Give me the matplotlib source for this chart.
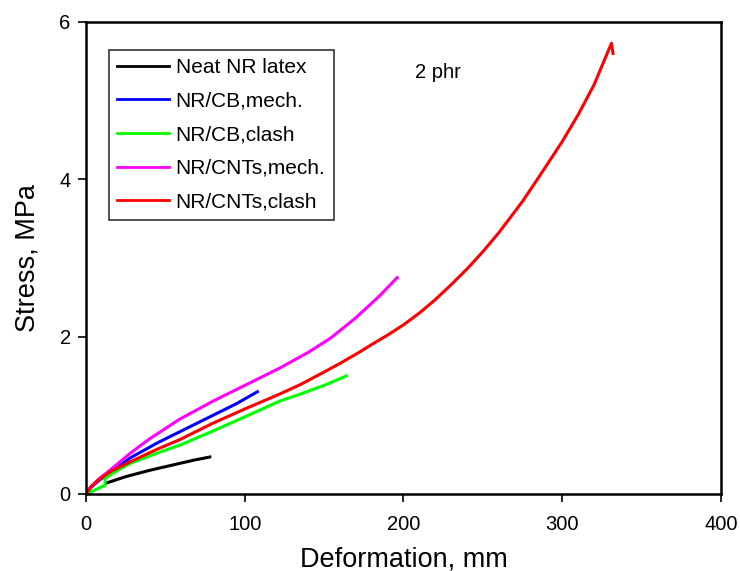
import matplotlib
matplotlib.use("Agg")
import matplotlib.pyplot as plt

plt.rcParams['font.family'] = ['Liberation Sans', 'DejaVu Sans']

# data (deformation in mm, stress in MPa)
neat_d = [13, 25, 40, 55, 68, 78]
neat_s = [0.14, 0.22, 0.30, 0.37, 0.43, 0.47]

cb_mech_d = [0, 3, 8, 15, 28, 45, 60, 80, 95, 108]
cb_mech_s = [0, 0.08, 0.17, 0.27, 0.46, 0.65, 0.80, 1.00, 1.15, 1.30]

cb_clash_d = [0, 12, 12, 20, 28, 45, 59, 80, 100, 122, 135, 150, 164]
cb_clash_s = [0, 0.11, 0.20, 0.30, 0.39, 0.52, 0.62, 0.80, 0.98, 1.18, 1.27, 1.38, 1.50]

cnt_mech_d = [0, 3, 8, 15, 28, 40, 59, 80, 100, 122, 140, 154, 170, 185, 196]
cnt_mech_s = [0, 0.09, 0.19, 0.30, 0.52, 0.70, 0.95, 1.18, 1.38, 1.60, 1.80, 1.98,
              2.24, 2.52, 2.75]

cnt_clash_d = [0, 3, 8, 15, 28, 45, 59, 80, 100, 122, 135, 150, 160, 172, 180, 190,
               200, 210, 220, 230, 240, 250, 260, 275, 285, 300, 310, 320, 331, 332]
cnt_clash_s = [0, 0.09, 0.18, 0.28, 0.41, 0.57, 0.69, 0.90, 1.08, 1.27, 1.39, 1.55,
               1.66, 1.80, 1.90, 2.02, 2.15, 2.30, 2.47, 2.66, 2.86, 3.08, 3.32,
               3.72, 4.02, 4.48, 4.82, 5.20, 5.73, 5.60]

series = [
    ("Neat NR latex", neat_d, neat_s, "black"),
    ("NR/CB,mech.", cb_mech_d, cb_mech_s, "#0000ff"),
    ("NR/CB,clash", cb_clash_d, cb_clash_s, "#00ff00"),
    ("NR/CNTs,mech.", cnt_mech_d, cnt_mech_s, "#ff00ff"),
    ("NR/CNTs,clash", cnt_clash_d, cnt_clash_s, "#ff0000"),
]

fig = plt.figure(figsize=(7.4, 5.71), dpi=100)
ax = fig.add_axes([0.1162, 0.1349, 0.8581, 0.8266])

for label, d, s, c in series:
    ax.plot(d, s, color=c, lw=2.2, label=label)

ax.set_xlim(0, 400)
ax.set_ylim(0, 6)
ax.set_xticks([0, 100, 200, 300, 400])
ax.set_yticks([0, 2, 4, 6])
ax.tick_params(direction="out", length=6, width=1.2, labelsize=14.5)
ax.tick_params(axis="x", pad=9)
ax.tick_params(axis="y", pad=5)
for sp in ax.spines.values():
    sp.set_linewidth(1.8)

ax.set_xlabel("Deformation, mm", fontsize=19.5, labelpad=9)
ax.set_ylabel("Stress, MPa", fontsize=19.5, labelpad=14)

ax.text(0.554, 0.892, "2 phr", transform=ax.transAxes, fontsize=14.5,
        ha="center", va="center")

leg = ax.legend(loc="upper left", bbox_to_anchor=(0.036, 0.941), borderaxespad=0,
                fontsize=15, frameon=True, fancybox=False, edgecolor="black",
                handlelength=2.5, handletextpad=0.3, labelspacing=0.7,
                borderpad=0.4)
leg.get_frame().set_linewidth(1.2)
for line in leg.get_lines():
    line.set_linewidth(2)

fig.savefig("out.png", dpi=100)
